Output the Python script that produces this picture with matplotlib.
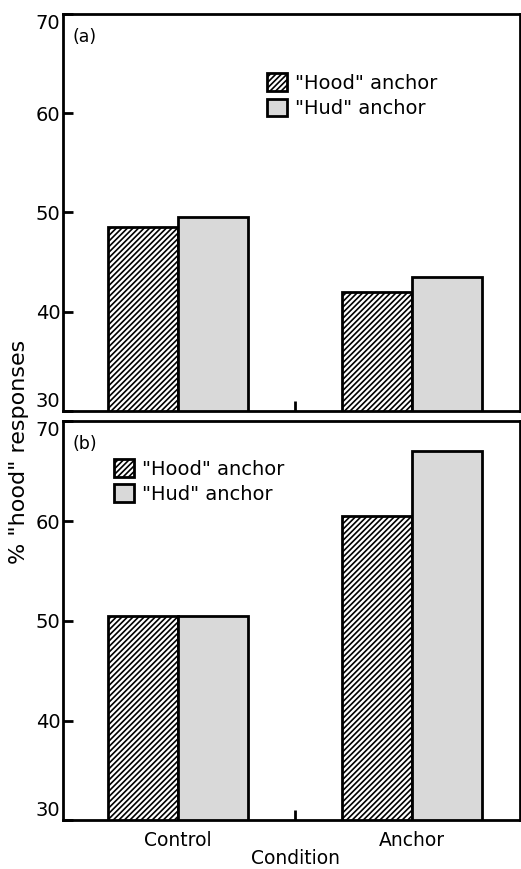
import matplotlib.pyplot as plt
import numpy as np

plt.rcParams['font.family'] = ['DejaVu Sans']
plt.rcParams['hatch.linewidth'] = 1.2

conditions = ['Control', 'Anchor']
series = ['"Hood" anchor', '"Hud" anchor']
panel_a_hood = [48.5, 42.0]
panel_a_hud = [49.5, 43.5]
panel_b_hood = [50.5, 60.5]
panel_b_hud = [50.5, 67.0]
yticks = [30, 40, 50, 60, 70]

fig = plt.figure(figsize=(5.21, 8.69), dpi=100)
ax_a = fig.add_axes([0.121, 0.527, 0.877, 0.457])
ax_b = fig.add_axes([0.121, 0.056, 0.877, 0.459])

x = np.arange(len(conditions))
w = 0.3


def draw(ax, hood, hud, label, legend_loc):
    ax.bar(x - w / 2, hood, w, color='white', edgecolor='black',
           hatch='//////', linewidth=2, label=series[0])
    ax.bar(x + w / 2, hud, w, color='#d9d9d9', edgecolor='black',
           linewidth=2, label=series[1])
    ax.set_ylim(30, 70)
    ax.set_xlim(-0.49, 1.46)
    ax.set_yticks(yticks)
    ax.set_xticks([0.5])
    ax.set_xticklabels([''])
    ax.tick_params(axis='both', direction='in', length=7, width=2,
                   labelsize=14, pad=2)
    labels = ax.get_yticklabels()
    labels[0].set_va('bottom')
    labels[-1].set_va('top')
    for s in ax.spines.values():
        s.set_linewidth(2)
    ax.text(0.02, 0.965, label, transform=ax.transAxes, fontsize=12.5,
            va='top', ha='left')
    ax.legend(loc='upper left', bbox_to_anchor=legend_loc, frameon=False,
              fontsize=14, handlelength=1.0, handleheight=1.0,
              handletextpad=0.45, labelspacing=0.3, borderaxespad=0)


draw(ax_a, panel_a_hood, panel_a_hud, '(a)', (0.43, 0.87))
draw(ax_b, panel_b_hood, panel_b_hud, '(b)', (0.095, 0.925))

for xi, name in zip(x, conditions):
    ax_b.text(xi, 28.9, name, ha='center', va='top', fontsize=13.5)
fig.text(0.568, 0.001, 'Condition', ha='center', va='bottom', fontsize=13.5)
fig.text(0.018, 0.48, '% "hood" responses', rotation=90, ha='left',
         va='center', fontsize=16)

plt.savefig('out.png', dpi=100)
